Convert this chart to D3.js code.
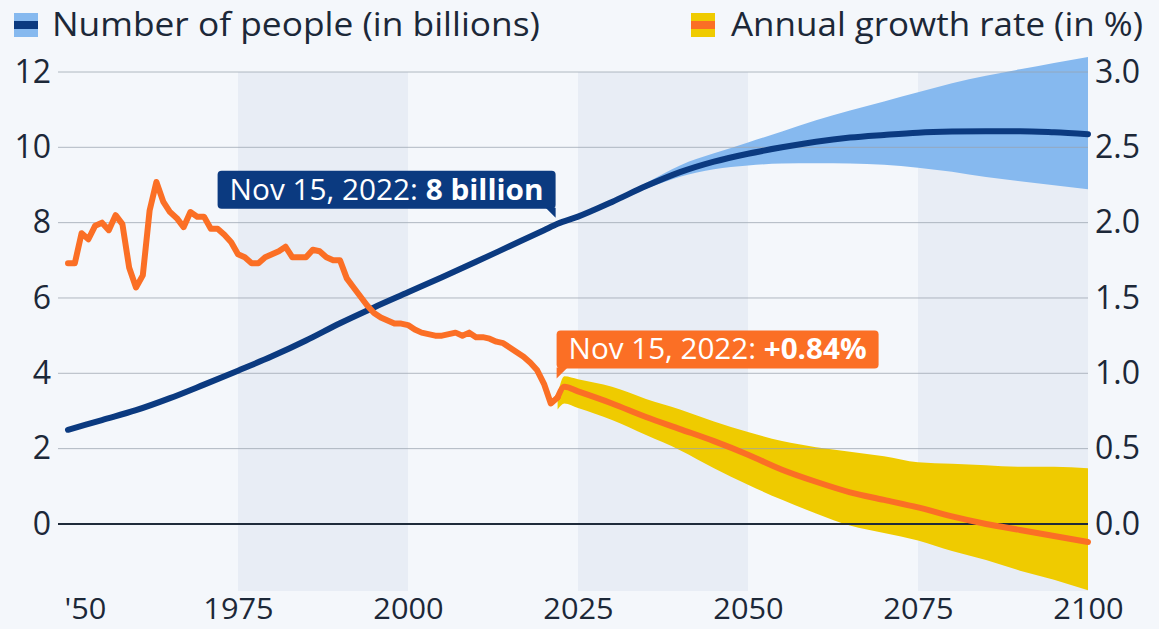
<!DOCTYPE html>
<html>
<head>
<meta charset="utf-8">
<script src="https://cdn.jsdelivr.net/npm/d3@7"></script>
<style>
  body { margin: 0; background: #f4f7fb; }
  svg { display: block; font-family: "Open Sans", "Noto Sans", sans-serif; }
</style>
</head>
<body>
<svg id="chart"></svg>
<script>
const width = 1159;
const height = 629;

// world population, billions
const popHistYears = [1950, 1955, 1960, 1965, 1970, 1975, 1980, 1985, 1990, 1995, 2000, 2005, 2010, 2015, 2020, 2022];
const popHist = [2.50, 2.76, 3.02, 3.34, 3.70, 4.07, 4.45, 4.87, 5.33, 5.75, 6.15, 6.55, 6.96, 7.38, 7.80, 7.97];

const popProjYears = [2022, 2025, 2030, 2035, 2040, 2045, 2050, 2055, 2060, 2065, 2070, 2075, 2080, 2085, 2090, 2095, 2100];
const popProj = [7.97, 8.16, 8.55, 8.97, 9.34, 9.62, 9.83, 10.00, 10.15, 10.26, 10.33, 10.39, 10.42, 10.43, 10.43, 10.40, 10.35];

const popBandYears = [2030, 2035, 2040, 2045, 2050, 2055, 2060, 2065, 2070, 2075, 2080, 2085, 2090, 2095, 2100];
const popLow = [8.55, 8.90, 9.22, 9.42, 9.52, 9.57, 9.58, 9.57, 9.54, 9.46, 9.35, 9.21, 9.10, 8.99, 8.89];
const popHigh = [8.55, 9.05, 9.52, 9.84, 10.13, 10.42, 10.72, 10.98, 11.22, 11.46, 11.70, 11.90, 12.07, 12.24, 12.40];

// annual growth rate, %
const growthHistYears = d3.range(1950, 2023);
const growthHist = [
  1.73, 1.73, 1.93, 1.89, 1.98, 2.00, 1.95, 2.05, 1.99, 1.70,
  1.57, 1.65, 2.08, 2.27, 2.14, 2.07, 2.03, 1.97, 2.07, 2.04,
  2.04, 1.96, 1.96, 1.92, 1.87, 1.79, 1.77, 1.73, 1.73, 1.77,
  1.79, 1.81, 1.84, 1.77, 1.77, 1.77, 1.82, 1.81, 1.77, 1.75,
  1.75, 1.63, 1.57, 1.51, 1.45, 1.40, 1.37, 1.35, 1.33, 1.33,
  1.32, 1.29, 1.27, 1.26, 1.25, 1.25, 1.26, 1.27, 1.25, 1.27,
  1.24, 1.24, 1.23, 1.21, 1.20, 1.17, 1.14, 1.11, 1.07, 1.02,
  0.93, 0.80, 0.84
];

const growthProjYears = [2022, 2023, 2025, 2030, 2035, 2040, 2045, 2050, 2055, 2060, 2065, 2070, 2075, 2080, 2085, 2090, 2095, 2100];
const growthProj = [0.84, 0.91, 0.88, 0.80, 0.71, 0.63, 0.55, 0.46, 0.36, 0.28, 0.21, 0.16, 0.11, 0.05, 0.00, -0.04, -0.08, -0.12];
const growthLow = [0.76, 0.80, 0.77, 0.69, 0.59, 0.49, 0.37, 0.26, 0.16, 0.07, -0.01, -0.06, -0.11, -0.18, -0.24, -0.31, -0.37, -0.44];
const growthHigh = [0.86, 0.98, 0.96, 0.91, 0.83, 0.76, 0.68, 0.61, 0.55, 0.51, 0.48, 0.45, 0.41, 0.40, 0.39, 0.38, 0.38, 0.37];

const xTicks = [1950, 1975, 2000, 2025, 2050, 2075, 2100];
const leftTicks = [0, 2, 4, 6, 8, 10, 12];
const rightTicks = [0, 0.5, 1.0, 1.5, 2.0, 2.5, 3.0];
const shadeRanges = [[1975, 2000], [2025, 2050], [2075, 2100]];

const annoYear = 2022;
const annoPop = 7.97;
const annoGrowth = 0.84;

const navy = "#0b3a80";
const orange = "#fb6f25";
const lightBlue = "#86b9ef";
const yellow = "#efcb00";
const ink = "#1c2838";

/* ---------------------------
Scales
--------------------------- */

const plotTop = 72, plotBottom = 591, plotLeft = 68, plotRight = 1088;

const x = d3.scaleLinear().domain([1950, 2100]).range([plotLeft, plotRight]);
const yL = d3.scaleLinear().domain([-1.78, 12]).range([plotBottom, plotTop]);
const yR = d3.scaleLinear().domain([-0.445, 3]).range([plotBottom, plotTop]);

const svg = d3.select("#chart")
  .attr("width", width)
  .attr("height", height);

svg.append("rect").attr("width", width).attr("height", height).attr("fill", "#f4f7fb");

// stretch a text node to a measured width (reference glyphs run wide)
function fitWidth(sel, w) {
  sel.attr("textLength", w).attr("lengthAdjust", "spacingAndGlyphs");
}

/* ---------------------------
Shaded quarter-century bands
--------------------------- */

svg.selectAll("rect.shade")
  .data(shadeRanges)
  .enter()
  .append("rect")
  .attr("class", "shade")
  .attr("x", d => x(d[0]))
  .attr("width", d => x(d[1]) - x(d[0]))
  .attr("y", plotTop)
  .attr("height", plotBottom - plotTop)
  .attr("fill", "#e8edf5");

/* ---------------------------
Uncertainty bands
--------------------------- */

const growthBand = growthProjYears.map((yr, i) => ({ yr, lo: growthLow[i], hi: growthHigh[i] }));
const popBand = popBandYears.map((yr, i) => ({ yr, lo: popLow[i], hi: popHigh[i] }));

svg.append("path")
  .datum(growthBand)
  .attr("fill", yellow)
  .attr("d", d3.area()
    .x(d => x(d.yr))
    .y0(d => yR(d.lo))
    .y1(d => yR(d.hi))
    .curve(d3.curveMonotoneX));

svg.append("path")
  .datum(popBand)
  .attr("fill", lightBlue)
  .attr("d", d3.area()
    .x(d => x(d.yr))
    .y0(d => yL(d.lo))
    .y1(d => yL(d.hi))
    .curve(d3.curveMonotoneX));

/* ---------------------------
Axes + gridlines
--------------------------- */

svg.selectAll("line.grid")
  .data(leftTicks)
  .enter()
  .append("line")
  .attr("class", "grid")
  .attr("x1", plotLeft - 10)
  .attr("x2", plotRight)
  .attr("y1", d => yL(d))
  .attr("y2", d => yL(d))
  .attr("stroke", d => d === 0 ? "#1f2b3a" : "#9aa3ad")
  .attr("stroke-opacity", d => d === 0 ? 1 : 0.75)
  .attr("stroke-width", d => d === 0 ? 2 : 1);

const leftAxis = svg.append("g")
  .attr("transform", `translate(${plotLeft - 10},0)`)
  .call(d3.axisLeft(yL).tickValues(leftTicks).tickSize(0).tickPadding(7));

leftAxis.select(".domain").remove();
leftAxis.selectAll("text")
  .attr("font-size", 32)
  .attr("font-family", "Open Sans")
  .attr("fill", ink);

const rightAxis = svg.append("g")
  .attr("transform", `translate(${plotRight},0)`)
  .call(d3.axisRight(yR).tickValues(rightTicks).tickFormat(d3.format(".1f")).tickSize(0).tickPadding(7));

rightAxis.select(".domain").remove();
rightAxis.selectAll("text")
  .attr("font-size", 32)
  .attr("font-family", "Open Sans")
  .attr("fill", ink);

const bottomAxis = svg.append("g")
  .attr("transform", `translate(0,${plotBottom})`)
  .call(d3.axisBottom(x).tickValues(xTicks)
    .tickFormat(d => d === 1950 ? "'50" : d)
    .tickSize(0).tickPadding(7));

bottomAxis.select(".domain").remove();
bottomAxis.selectAll("text")
  .attr("font-size", 29)
  .attr("font-family", "Open Sans")
  .attr("fill", ink)
  .attr("text-anchor", d => d === 1950 ? "start" : "middle")
  .attr("dx", d => d === 1950 ? -4 : 0)
  .each(function () { fitWidth(d3.select(this), this.getComputedTextLength() * 1.06); });

/* ---------------------------
Lines
--------------------------- */

const growthPast = growthHistYears.map((yr, i) => ({ yr, v: growthHist[i] }));
const growthFuture = growthProjYears.map((yr, i) => ({ yr, v: growthProj[i] }));

const popAll = popHistYears.map((yr, i) => ({ yr, v: popHist[i] }))
  .concat(popProjYears.slice(1).map((yr, i) => ({ yr, v: popProj[i + 1] })));

svg.append("path")
  .datum(popAll)
  .attr("fill", "none")
  .attr("stroke", navy)
  .attr("stroke-width", 6)
  .attr("stroke-linejoin", "round")
  .attr("stroke-linecap", "round")
  .attr("d", d3.line()
    .x(d => x(d.yr))
    .y(d => yL(d.v))
    .curve(d3.curveMonotoneX));

const growthLine = d3.line()
  .x(d => x(d.yr))
  .y(d => yR(d.v));

svg.append("path")
  .datum(growthPast)
  .attr("fill", "none")
  .attr("stroke", orange)
  .attr("stroke-width", 6)
  .attr("stroke-linejoin", "round")
  .attr("stroke-linecap", "round")
  .attr("d", growthLine);

svg.append("path")
  .datum(growthFuture)
  .attr("fill", "none")
  .attr("stroke", orange)
  .attr("stroke-width", 6)
  .attr("stroke-linejoin", "round")
  .attr("stroke-linecap", "round")
  .attr("d", growthLine.curve(d3.curveMonotoneX));

/* ---------------------------
Callouts
--------------------------- */

function callout(px, py, fill, parts, side, textW) {
  const g = svg.append("g");
  const text = g.append("text")
    .attr("font-size", 29)
    .attr("font-family", "Open Sans")
    .attr("fill", "#ffffff");
  parts.forEach(p => {
    text.append("tspan").attr("font-weight", p.bold ? 700 : 400).text(p.t);
  });
  fitWidth(text, textW);
  const boxW = textW + 24, boxH = 38;
  let bx, by;
  if (side === "left") {
    // tail hangs off the bottom right corner
    bx = px - 2 - boxW;
    by = py - 15 - boxH;
  } else {
    bx = px - 1;
    by = py - 29 - boxH;
  }
  g.insert("rect", "text")
    .attr("x", bx).attr("y", by)
    .attr("width", boxW).attr("height", boxH)
    .attr("rx", 4)
    .attr("fill", fill);
  const tail = side === "left"
    ? [[bx + boxW - 10, by + boxH - 1], [bx + boxW, by + boxH - 1], [bx + boxW, by + boxH + 9]]
    : [[bx, by + boxH - 1], [bx + 11, by + boxH - 1], [bx, by + boxH + 10]];
  g.insert("path", "text")
    .attr("d", d3.line()(tail) + "Z")
    .attr("fill", fill);
  text.attr("x", bx + 12).attr("y", by + 29);
}

callout(x(annoYear), yL(annoPop), navy,
  [{ t: "Nov 15, 2022: " }, { t: "8 billion", bold: true }], "left", 314);

callout(x(annoYear), yR(annoGrowth), orange,
  [{ t: "Nov 15, 2022: " }, { t: "+" + annoGrowth.toFixed(2) + "%", bold: true }], "right", 298);

/* ---------------------------
Legend
--------------------------- */

function legendIcon(lx, outer, inner) {
  svg.append("rect").attr("x", lx).attr("y", 13).attr("width", 24).attr("height", 24).attr("fill", outer);
  svg.append("rect").attr("x", lx).attr("y", 21).attr("width", 24).attr("height", 8).attr("fill", inner);
}

legendIcon(14, lightBlue, navy);
svg.append("text")
  .attr("x", 52).attr("y", 36)
  .attr("font-size", 32)
  .attr("fill", ink)
  .text("Number of people (in billions)")
  .call(fitWidth, 488);

legendIcon(691, yellow, orange);
svg.append("text")
  .attr("x", 731).attr("y", 36)
  .attr("font-size", 32)
  .attr("fill", ink)
  .text("Annual growth rate (in %)")
  .call(fitWidth, 412);
</script>
</body>
</html>
